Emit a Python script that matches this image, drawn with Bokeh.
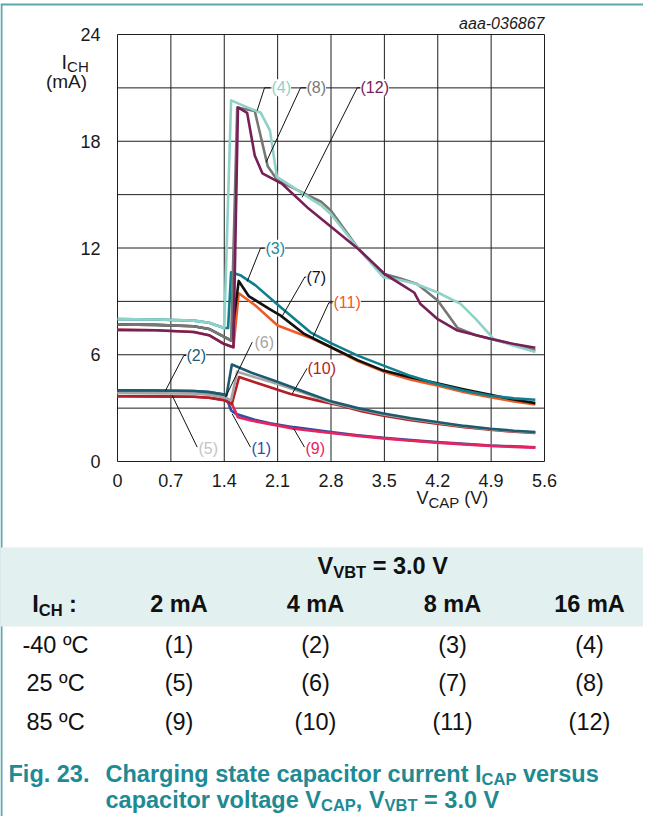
from bokeh.plotting import figure
from bokeh.models import Range1d, FixedTicker, Label, LinearAxis
from bokeh.embed import file_html
from bokeh.resources import INLINE

FONT = "Liberation Sans"

# ---------------- data ----------------
x_ticks = [0, 0.7, 1.4, 2.1, 2.8, 3.5, 4.2, 4.9, 5.6]
x_tick_labels = ["0", "0.7", "1.4", "2.1", "2.8", "3.5", "4.2", "4.9", "5.6"]
y_ticks = [0, 6, 12, 18, 24]
y_tick_labels = ["0", "6", "12", "18", "24"]
y_grid_lines = [0, 3, 6, 9, 12, 15, 18, 21, 24]

# (1) -40 C, 2 mA
vcap_1 = [0, 0.5, 1.0, 1.2, 1.4, 1.45, 1.49, 1.55, 1.61, 1.8, 2.0, 2.31, 2.8, 3.15, 3.49, 3.85, 4.19, 4.55, 4.89, 5.2, 5.48]
ich_1 = [4.0, 3.99, 3.96, 3.9, 3.76, 3.33, 2.87, 2.68, 2.6, 2.35, 2.15, 1.93, 1.65, 1.48, 1.33, 1.2, 1.09, 0.99, 0.9, 0.85, 0.8]
# (5) 25 C, 2 mA
vcap_5 = [0, 0.5, 1.0, 1.2, 1.4, 1.49, 1.52, 1.57, 1.75, 2.0, 2.31, 2.8, 3.15, 3.49, 3.85, 4.19, 4.55, 4.89, 5.2, 5.48]
ich_5 = [3.85, 3.84, 3.82, 3.76, 3.6, 3.45, 3.0, 2.55, 2.35, 2.12, 1.88, 1.62, 1.46, 1.31, 1.18, 1.07, 0.97, 0.89, 0.83, 0.79]
# (9) 85 C, 2 mA
vcap_9 = [0, 0.5, 1.0, 1.2, 1.4, 1.5, 1.58, 1.75, 2.0, 2.31, 2.8, 3.15, 3.49, 3.85, 4.19, 4.55, 4.89, 5.2, 5.48]
ich_9 = [3.67, 3.66, 3.64, 3.58, 3.45, 3.24, 2.49, 2.3, 2.1, 1.84, 1.6, 1.44, 1.3, 1.17, 1.06, 0.96, 0.88, 0.82, 0.78]
# (2) -40 C, 4 mA
vcap_2 = [0, 0.5, 1.0, 1.2, 1.4, 1.43, 1.5, 1.75, 2.05, 2.45, 2.8, 3.15, 3.49, 3.85, 4.19, 4.55, 4.89, 5.2, 5.48]
ich_2 = [4.0, 3.99, 3.96, 3.9, 3.76, 3.72, 5.45, 5.0, 4.55, 3.92, 3.38, 3.0, 2.7, 2.43, 2.22, 2.0, 1.84, 1.73, 1.66]
# (6) 25 C, 4 mA
vcap_6 = [0, 0.5, 1.0, 1.2, 1.4, 1.49, 1.57, 1.75, 2.05, 2.45, 2.8, 3.15, 3.49, 3.85, 4.19, 4.55, 4.89, 5.2, 5.48]
ich_6 = [3.85, 3.84, 3.82, 3.76, 3.6, 3.45, 5.05, 4.8, 4.42, 3.85, 3.32, 2.95, 2.65, 2.39, 2.18, 1.97, 1.81, 1.7, 1.63]
# (10) 85 C, 4 mA
vcap_10 = [0, 0.5, 1.0, 1.2, 1.4, 1.5, 1.595, 1.8, 2.05, 2.27, 2.6, 2.92, 3.2, 3.49, 3.85, 4.19, 4.55, 4.89, 5.2, 5.48]
ich_10 = [3.67, 3.66, 3.64, 3.58, 3.45, 3.24, 4.75, 4.45, 4.1, 3.8, 3.45, 3.15, 2.82, 2.57, 2.32, 2.12, 1.93, 1.78, 1.67, 1.6]
# (3) -40 C, 8 mA
vcap_3 = [0, 0.5, 1.0, 1.2, 1.4, 1.45, 1.49, 1.62, 1.81, 2.14, 2.53, 2.8, 3.15, 3.49, 3.85, 4.19, 4.55, 4.89, 5.2, 5.48]
ich_3 = [8.0, 7.98, 7.92, 7.8, 7.5, 7.5, 10.64, 10.45, 9.9, 8.67, 7.26, 6.65, 5.95, 5.39, 4.8, 4.36, 3.98, 3.7, 3.55, 3.47]
# (7) 25 C, 8 mA
vcap_7 = [0, 0.5, 1.0, 1.2, 1.4, 1.49, 1.59, 1.72, 1.99, 2.14, 2.45, 2.8, 3.15, 3.49, 3.85, 4.19, 4.55, 4.89, 5.2, 5.48]
ich_7 = [7.7, 7.68, 7.6, 7.45, 7.0, 6.8, 10.15, 9.3, 8.58, 8.2, 7.17, 6.42, 5.7, 5.11, 4.72, 4.4, 4.05, 3.75, 3.48, 3.28]
# (11) 85 C, 8 mA
vcap_11 = [0, 0.5, 1.0, 1.2, 1.4, 1.52, 1.59, 1.8, 2.1, 2.56, 2.8, 3.15, 3.49, 3.85, 4.19, 4.55, 4.89, 5.2, 5.48]
ich_11 = [7.4, 7.38, 7.28, 7.1, 6.6, 6.42, 9.46, 8.8, 7.64, 6.9, 6.42, 5.65, 5.05, 4.6, 4.27, 3.9, 3.61, 3.38, 3.2]
# (4) -40 C, 16 mA
vcap_4 = [0, 0.5, 1.0, 1.2, 1.4, 1.49, 1.65, 1.88, 2.0, 2.09, 2.2, 2.45, 2.67, 2.8, 3.17, 3.49, 3.7, 3.9, 4.2, 4.5, 4.7, 4.93, 5.2, 5.48]
ich_4 = [8.0, 7.98, 7.92, 7.8, 7.5, 20.3, 20.0, 19.6, 18.6, 16.0, 15.7, 15.0, 14.4, 13.9, 11.9, 10.35, 10.2, 10.0, 9.5, 8.86, 8.0, 6.9, 6.5, 6.15]
# (8) 25 C, 16 mA
vcap_8 = [0, 0.5, 1.0, 1.2, 1.4, 1.49, 1.57, 1.8, 1.97, 2.1, 2.44, 2.67, 2.8, 3.17, 3.49, 3.7, 3.93, 4.2, 4.46, 4.7, 4.89, 5.2, 5.48]
ich_8 = [7.7, 7.68, 7.6, 7.45, 7.0, 6.8, 19.9, 19.7, 16.6, 15.8, 15.08, 14.6, 14.1, 11.9, 10.55, 10.3, 9.98, 9.05, 7.5, 7.1, 6.9, 6.55, 6.24]
# (12) 85 C, 16 mA
vcap_12 = [0, 0.5, 1.0, 1.2, 1.4, 1.52, 1.58, 1.7, 1.8, 1.9, 2.16, 2.51, 2.8, 3.17, 3.5, 3.71, 3.89, 3.97, 4.2, 4.46, 4.89, 5.2, 5.48]
ich_12 = [7.4, 7.38, 7.28, 7.1, 6.6, 6.42, 19.9, 19.6, 17.2, 16.2, 15.6, 14.2, 13.2, 11.9, 10.55, 9.98, 9.5, 8.87, 8.0, 7.36, 6.9, 6.6, 6.39]

temps = ["-40 \u00baC", "25 \u00baC", "85 \u00baC"]
currents = ["2 mA", "4 mA", "8 mA", "16 mA"]
curve_numbers = [["(1)", "(2)", "(3)", "(4)"],
                 ["(5)", "(6)", "(7)", "(8)"],
                 ["(9)", "(10)", "(11)", "(12)"]]

colors = {1: "#2f4fa3", 5: "#d2d2d2", 9: "#e8235f",
          2: "#1f5b6e", 6: "#a5a5a5", 10: "#b21f24",
          3: "#0f7f8c", 7: "#111111", 11: "#ef5b25",
          4: "#8ed2c8", 8: "#777777", 12: "#772058"}
label_colors = dict(colors)
label_colors[5] = "#c4c4c4"
label_colors[3] = "#1a8a9a"

series = {1: (vcap_1, ich_1), 2: (vcap_2, ich_2), 3: (vcap_3, ich_3), 4: (vcap_4, ich_4),
          5: (vcap_5, ich_5), 6: (vcap_6, ich_6), 7: (vcap_7, ich_7), 8: (vcap_8, ich_8),
          9: (vcap_9, ich_9), 10: (vcap_10, ich_10), 11: (vcap_11, ich_11), 12: (vcap_12, ich_12)}
draw_order = [5, 1, 9, 10, 6, 2, 11, 7, 3, 8, 4, 12]

# ---------------- geometry helpers (pixel positions) ----------------
FIG_W, FIG_H = 643, 816
FR_L, FR_R, FR_T, FR_B = 117, 544, 34, 461
SX = (FR_R - FR_L) / 5.6
SY = (FR_B - FR_T) / 24.0


def X(px):
    return (px - FR_L) / SX


def Y(py):
    return (FR_B - py) / SY


REG = {' ': 278, '(': 333, ')': 333, 'V': 667, 'C': 722, 'A': 667, 'P': 667, 'I': 278, 'H': 722, 'm': 833}
BOLD = {' ': 278, 'C': 722, 'h': 611, 'a': 556, 'r': 389, 'g': 611, 'i': 278, 'n': 611, 's': 556,
        't': 333, 'e': 556, 'c': 556, 'p': 611, 'o': 611, 'u': 611, 'I': 278, 'v': 556, 'l': 278,
        'V': 667, 'A': 722, 'P': 667, 'B': 722, 'T': 611, 'H': 722, ',': 278, '=': 584, '.': 278,
        ':': 333, 'F': 611, 'y': 556}


def tw(s, size, bold=False):
    table = BOLD if bold else REG
    return sum(table.get(ch, 556) for ch in s) * size / 1000.0


# ---------------- figure ----------------
p = figure(width=FIG_W, height=FIG_H,
           x_range=Range1d(X(0), X(FIG_W)),
           y_range=Range1d(Y(FIG_H), Y(0)),
           output_backend="svg", toolbar_location=None, min_border=0,
           x_axis_location=None, y_axis_location=None)
p.grid.visible = False
p.outline_line_color = None
p.background_fill_color = "white"
p.border_fill_color = "white"

xaxis = LinearAxis(fixed_location=0, ticker=FixedTicker(ticks=x_ticks),
                   major_label_overrides=dict(zip(x_ticks, x_tick_labels)))
yaxis = LinearAxis(fixed_location=0, ticker=FixedTicker(ticks=y_ticks),
                   major_label_overrides=dict(zip(y_ticks, y_tick_labels)))
for ax in (xaxis, yaxis):
    ax.axis_line_color = None
    ax.major_tick_line_color = None
    ax.minor_tick_line_color = None
    ax.major_label_text_font = FONT
    ax.major_label_text_font_size = "18px"
    ax.major_label_text_color = "#1a1a1a"
xaxis.major_label_standoff = 6
yaxis.major_label_standoff = 11
p.add_layout(xaxis, "below")
p.add_layout(yaxis, "left")

# page border (teal) on the left and top
p.segment(x0=[X(1)], y0=[Y(4)], x1=[X(1)], y1=[Y(840)], line_color="#5ba8ae", line_width=2)
p.segment(x0=[X(0)], y0=[Y(4)], x1=[X(700)], y1=[Y(4)], line_color="#5ba8ae", line_width=2)

# grid lines at every tick position
p.segment(x0=x_ticks, y0=[0] * len(x_ticks), x1=x_ticks, y1=[24] * len(x_ticks),
          line_color="#1e1e1e", line_width=1)
p.segment(x0=[0] * len(y_grid_lines), y0=y_grid_lines, x1=[5.6] * len(y_grid_lines), y1=y_grid_lines,
          line_color="#1e1e1e", line_width=1)

for k in draw_order:
    xs, ys = series[k]
    p.line(xs, ys, line_color=colors[k], line_width=2.6, line_join="round")

annotations = [
    (4, [(256.7, 110), (264, 87.3), (270, 87.3)], 271, 87.3),
    (8, [(265.7, 161.7), (300, 87.3), (306, 87.3)], 306, 87.3),
    (12, [(301.7, 196.7), (356.7, 87.3), (360, 87.3)], 360, 87.3),
    (3, [(246.7, 281), (260, 247.7), (264, 247.7)], 265, 247.7),
    (7, [(281.7, 315.7), (304.3, 276.5), (306, 276.5)], 306, 276.5),
    (11, [(311.7, 338.3), (328.3, 302.3), (332, 302.3)], 333, 302.3),
    (2, [(165, 390), (183.3, 355), (186, 355)], 186, 355),
    (6, [(225, 396.7), (251.7, 341.7)], 254, 341.5),
    (10, [(291.7, 393.3), (306.7, 367.7)], 307, 367.5),
    (5, [(171.7, 395), (196.7, 446.7)], 198, 447.5),
    (1, [(231.7, 413.3), (250, 446.7)], 251, 447.5),
    (9, [(293.3, 428.3), (304, 446.7)], 305, 447.5),
]
for k, pts, lx, ly in annotations:
    p.line([X(a) for a, b in pts], [Y(b) for a, b in pts], line_color="#111111", line_width=1)
for k, pts, lx, ly in annotations:
    p.add_layout(Label(x=X(lx), y=Y(ly), text="(%d)" % k, text_font=FONT,
                       text_font_size="16px", text_color=label_colors[k],
                       text_align="left", text_baseline="middle",
                       background_fill_color="white"))


def lab(px, py, text, size, align="left", style="normal", color="#1a1a1a"):
    """py is the vertical centre of the text line"""
    p.add_layout(Label(x=X(px), y=Y(py), text=text, text_font=FONT,
                       text_font_size="%gpx" % size, text_font_style=style,
                       text_color=color, text_align=align, text_baseline="middle"))


def run(x, y, parts, size, sub_size, sub_dy, color="#1a1a1a", bold=False):
    """inline text with subscripts; parts: list of (text, is_sub)"""
    for text, sub in parts:
        sz = sub_size if sub else size
        lead = len(text) - len(text.lstrip(" "))
        x += tw(" " * lead, sz, bold)
        body = text.lstrip(" ")
        lab(x, y + (sub_dy if sub else 0), body, sz, style="bold" if bold else "normal", color=color)
        x += tw(body, sz, bold)


# axis titles
run(61, 61, [("I", False), ("CH", True)], 20, 15, 5)
lab(66, 81, "(mA)", 19, align="center")
run(416, 497.5, [("V", False), ("CAP", True), (" (V)", False)], 18, 15, 4)
lab(544, 22.7, "aaa-036867", 16, align="right", style="italic")

# ---------------- table ----------------
p.quad(left=[X(0)], right=[X(700)], top=[Y(547)], bottom=[Y(626)], fill_color="#e3f0f0", line_color=None)

FS = 23.5
SUB = 16.5
SUBDY = 6
BLK = "#111111"

run(317, 565, [("V", False), ("VBT", True), (" = 3.0 V", False)], FS, SUB, SUBDY, color=BLK, bold=True)
run(31.7, 603.5, [("I", False), ("CH", True), (" :", False)], FS, SUB, SUBDY, color=BLK, bold=True)
col_x = [178.5, 315, 452, 589]
for cx, ctext in zip(col_x, currents):
    lab(cx, 603.5, ctext, FS, align="center", style="bold", color=BLK)

row_y = [644, 682.5, 721.5]
for r in range(3):
    lab(55, row_y[r], temps[r], FS, align="center", color=BLK)
    for cx, ctext in zip(col_x, curve_numbers[r]):
        lab(cx, row_y[r], ctext, FS, align="center", color=BLK)

# ---------------- caption ----------------
CAP_C = "#1d8a94"
CY1, CY2 = 773, 799
lab(8, CY1, "Fig. 23.", FS, style="bold", color=CAP_C)
run(105, CY1, [("Charging state capacitor current I", False), ("CAP", True), (" versus", False)],
    FS, SUB, 5, color=CAP_C, bold=True)
run(105, CY2, [("capacitor voltage V", False), ("CAP", True), (", V", False), ("VBT", True),
               (" = 3.0 V", False)], FS, SUB, 5, color=CAP_C, bold=True)

open("out.html", "w").write(file_html(p, INLINE, "chart"))
